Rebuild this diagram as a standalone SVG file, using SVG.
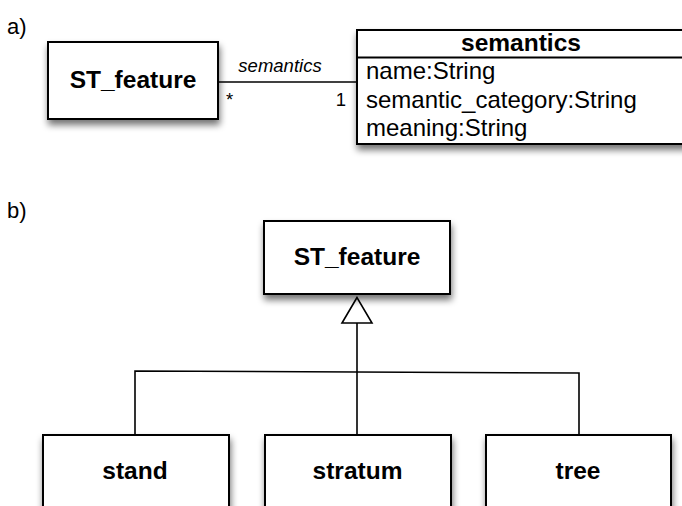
<svg xmlns="http://www.w3.org/2000/svg" width="682" height="506" viewBox="0 0 682 506">
  <style>
    text { font-family: "Liberation Sans", Arial, Helvetica, sans-serif; fill: #000; }
    .box { fill: #fff; stroke: #000; stroke-width: 2; filter: url(#shadow); }
    .name { font-size: 24.5px; font-weight: bold; text-anchor: middle; }
    .attr { font-size: 24px; }
    .tag { font-size: 22px; }
    .role { font-size: 18.5px; font-style: italic; text-anchor: middle; }
    .mult { font-size: 18.5px; }
    .wire { fill: none; stroke: #000; stroke-width: 1.6; }
  </style>
  <defs>
    <filter id="shadow" x="-20%" y="-20%" width="140%" height="160%">
      <feGaussianBlur in="SourceAlpha" stdDeviation="3.5"/>
      <feOffset dx="1" dy="5" result="blur"/>
      <feComponentTransfer><feFuncA type="linear" slope="0.55"/></feComponentTransfer>
      <feMerge><feMergeNode/><feMergeNode in="SourceGraphic"/></feMerge>
    </filter>
  </defs>

  <rect width="682" height="506" fill="#fff"/>

  <!-- panel labels -->
  <text class="tag" x="7" y="33.5">a)</text>
  <text class="tag" x="7" y="218">b)</text>

  <!-- connectors -->
  <g id="connectors">
    <!-- association ST_feature * — 1 semantics -->
    <line class="wire" x1="218" y1="82" x2="357" y2="82"/>
    <text class="role" x="280" y="72">semantics</text>
    <text class="mult" x="226" y="106">*</text>
    <text class="mult" x="346" y="106" text-anchor="end">1</text>

    <!-- generalization tree -->
    <path class="wire" d="M135 435 V371 L579 373 V435"/>
    <path class="wire" d="M357 323 V435"/>
    <polygon points="357,297.5 342,323 372,323" fill="#fff" stroke="#000" stroke-width="1.6" stroke-linejoin="miter"/>
  </g>

  <!-- a) ST_feature -->
  <g id="st-feature-a">
    <rect class="box" x="48" y="42" width="170" height="77"/>
    <text class="name" x="133" y="88">ST_feature</text>
  </g>

  <!-- a) semantics class -->
  <g id="semantics">
    <rect class="box" x="357" y="30" width="330" height="114"/>
    <line x1="357" y1="57.5" x2="687" y2="57.5" stroke="#000" stroke-width="2"/>
    <text class="name" x="521" y="50.5">semantics</text>
    <text class="attr" x="366" y="79">name:String</text>
    <text class="attr" x="366" y="107.5">semantic_category:String</text>
    <text class="attr" x="366" y="136">meaning:String</text>
  </g>

  <!-- b) ST_feature -->
  <g id="st-feature-b">
    <rect class="box" x="264" y="221" width="186" height="73"/>
    <text class="name" x="357" y="264.5">ST_feature</text>
  </g>

  <!-- b) subclasses -->
  <g id="stand">
    <rect class="box" x="43" y="435" width="186" height="90"/>
    <text class="name" x="135" y="479">stand</text>
  </g>
  <g id="stratum">
    <rect class="box" x="265" y="435" width="186" height="90"/>
    <text class="name" x="357.5" y="479">stratum</text>
  </g>
  <g id="tree">
    <rect class="box" x="486" y="435" width="185" height="90"/>
    <text class="name" x="578" y="479">tree</text>
  </g>
</svg>
